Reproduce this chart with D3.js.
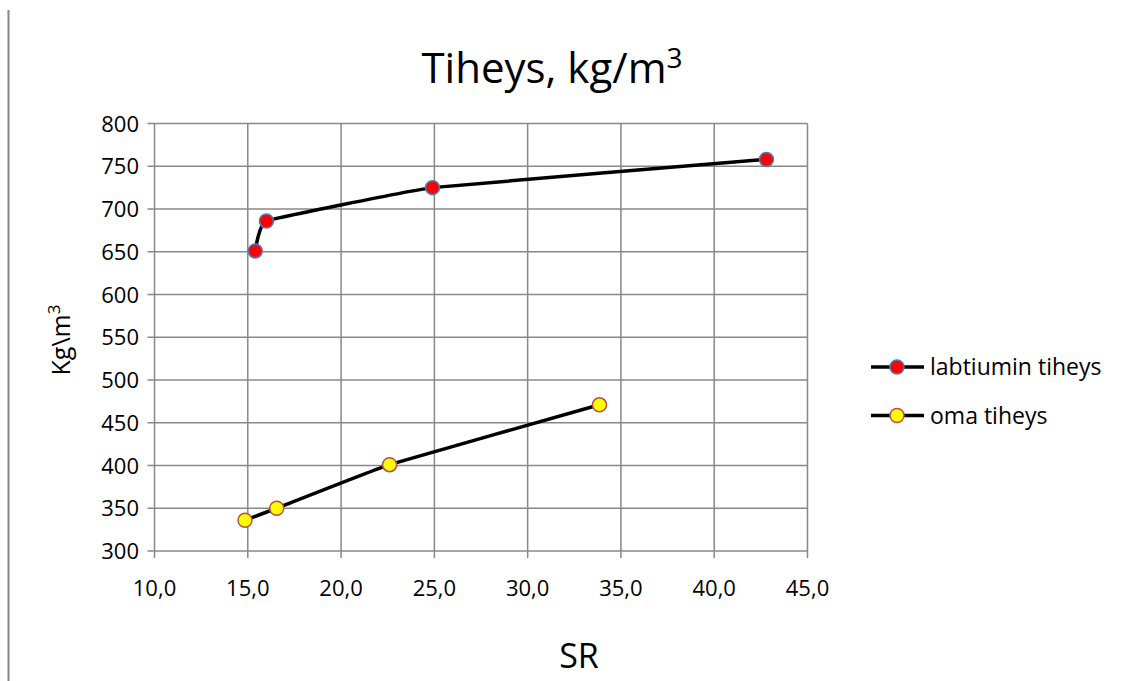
<!DOCTYPE html>
<html>
<head>
<meta charset="utf-8">
<script src="https://cdn.jsdelivr.net/npm/d3@7"></script>
<style>
  body { margin: 0; background: #fff; }
  svg { display: block; font-family: "Open Sans", Lato, sans-serif; }
</style>
</head>
<body>
<svg width="1127" height="681"></svg>
<script>
// data
var labX = [15.4, 16.0, 24.9, 42.8];
var labY = [651, 686, 725, 758];
var omaX = [14.85, 16.55, 22.6, 33.85];
var omaY = [336, 350, 401, 471];
var seriesNames = ["labtiumin tiheys", "oma tiheys"];
var xTicks = [10, 15, 20, 25, 30, 35, 40, 45];
var yTicks = [300, 350, 400, 450, 500, 550, 600, 650, 700, 750, 800];

var svg = d3.select("svg");

var x = d3.scaleLinear().domain([10, 45]).range([154.5, 807.5]);
var y = d3.scaleLinear().domain([300, 800]).range([551, 123.5]);

// left frame edge
svg.append("line")
    .attr("x1", 8.5).attr("x2", 8.5)
    .attr("y1", 10).attr("y2", 681)
    .attr("stroke", "#888").attr("stroke-width", 2);

// grid
var grid = svg.append("g").attr("stroke", "#888").attr("stroke-width", 1.5);
grid.selectAll(".gx").data(xTicks).enter().append("line")
    .attr("x1", d => x(d)).attr("x2", d => x(d))
    .attr("y1", y(800)).attr("y2", y(300) + 7);
grid.selectAll(".gy").data(yTicks).enter().append("line")
    .attr("x1", x(10) - 7).attr("x2", x(45))
    .attr("y1", d => y(d)).attr("y2", d => y(d));

// tick labels
svg.append("g").selectAll("text").data(yTicks).enter().append("text")
    .attr("x", 139).attr("y", d => y(d) + 8)
    .attr("text-anchor", "end").attr("font-size", 22)
    .text(d => d);
svg.append("g").selectAll("text").data(xTicks).enter().append("text")
    .attr("x", d => x(d)).attr("y", 596)
    .attr("text-anchor", "middle").attr("font-size", 22)
    .text(d => d3.format(".1f")(d).replace(".", ","));

// titles
var title = svg.append("text")
    .attr("x", 552).attr("y", 83)
    .attr("text-anchor", "middle").attr("font-size", 42);
title.append("tspan").text("Tiheys, kg/m");
title.append("tspan").attr("font-size", 28).attr("dy", -15).text("3");

var yt = svg.append("text")
    .attr("transform", "translate(70,340) rotate(-90)")
    .attr("text-anchor", "middle").attr("font-size", 25);
yt.append("tspan").text("Kg\\m");
yt.append("tspan").attr("font-size", 17).attr("dy", -10).text("3");

svg.append("text")
    .attr("x", 579).attr("y", 668)
    .attr("text-anchor", "middle").attr("font-size", 34)
    .text("SR");

// series
var series = [
  { name: seriesNames[0], xs: labX, ys: labY, fill: "#ff0000", stroke: "#4a7ebb" },
  { name: seriesNames[1], xs: omaX, ys: omaY, fill: "#ffff00", stroke: "#be4b48" }
];

var line = d3.line()
    .x(d => x(d[0])).y(d => y(d[1]))
    .curve(d3.curveCardinal.tension(0.75));

series.forEach(function (s) {
  var pts = s.xs.map((v, i) => [v, s.ys[i]]);
  svg.append("path").datum(pts)
      .attr("d", line)
      .attr("fill", "none").attr("stroke", "#000").attr("stroke-width", 3.5);
  svg.append("g").selectAll("circle").data(pts).enter().append("circle")
      .attr("cx", d => x(d[0])).attr("cy", d => y(d[1]))
      .attr("r", 7)
      .attr("fill", s.fill).attr("stroke", s.stroke).attr("stroke-width", 1.5);
});

// legend
var legend = svg.append("g").selectAll("g").data(series).enter().append("g")
    .attr("transform", (d, i) => "translate(0," + (367 + i * 48.5) + ")");
legend.append("line")
    .attr("x1", 871).attr("x2", 924).attr("y1", 0).attr("y2", 0)
    .attr("stroke", "#000").attr("stroke-width", 3.5);
legend.append("circle")
    .attr("cx", 897).attr("cy", 0).attr("r", 7)
    .attr("fill", d => d.fill).attr("stroke", d => d.stroke).attr("stroke-width", 1.5);
legend.append("text")
    .attr("x", 930).attr("y", 8).attr("font-size", 23)
    .text(d => d.name);
</script>
</body>
</html>
